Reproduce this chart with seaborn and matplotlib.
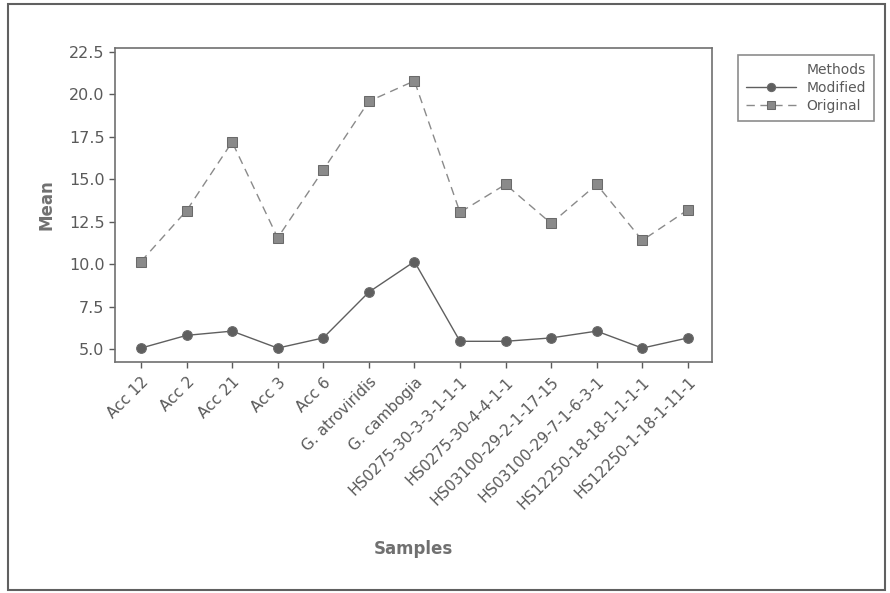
import pandas as pd
import seaborn as sns
import matplotlib.pyplot as plt
from matplotlib.patches import Rectangle

sns.set_style("white")
plt.rcParams["font.family"] = ["DejaVu Sans"]

samples = ["Acc 12", "Acc 2", "Acc 21", "Acc 3", "Acc 6", "G. atroviridis",
           "G. cambogia", "HS0275-30-3-3-1-1-1", "HS0275-30-4-4-1-1",
           "HS03100-29-2-1-17-15", "HS03100-29-7-1-6-3-1",
           "HS12250-18-18-1-1-1-1", "HS12250-1-18-1-11-1"]
modified = [5.05, 5.8, 6.05, 5.05, 5.65, 8.35, 10.15, 5.45, 5.45, 5.65, 6.05, 5.05, 5.65]
original = [10.15, 13.15, 17.2, 11.55, 15.55, 19.6, 20.8, 13.05, 14.7, 12.4, 14.7, 11.4, 13.2]
methods = ["Modified", "Original"]

df = pd.DataFrame({
    "Samples": samples * 2,
    "Mean": modified + original,
    "Methods": [methods[0]] * len(samples) + [methods[1]] * len(samples),
})

text_col = "#5a5a5a"
fig = plt.figure(figsize=(8.9, 5.93), dpi=100)
ax = fig.add_axes([115 / 890, 1 - 362 / 593, (712 - 115) / 890, (362 - 48) / 593])

sns.lineplot(data=df, x="Samples", y="Mean", hue="Methods", style="Methods",
             palette={"Modified": "#5f5f5f", "Original": "#8a8a8a"},
             markers={"Modified": "o", "Original": "s"},
             dashes={"Modified": "", "Original": (6, 4)},
             markersize=7, markeredgecolor="#6a6a6a", linewidth=1.0,
             sort=False, ax=ax)

ax.set_xlim(-0.57, len(samples) - 1 + 0.53)
ax.set_ylim(4.23, 22.74)
ax.set_yticks([5.0, 7.5, 10.0, 12.5, 15.0, 17.5, 20.0, 22.5])
ax.set_yticklabels(["5.0", "7.5", "10.0", "12.5", "15.0", "17.5", "20.0", "22.5"])
ax.set_xticks(range(len(samples)))
ax.set_xticklabels(samples, rotation=45, ha="right", rotation_mode="anchor")
ax.tick_params(axis="both", colors=text_col, length=4, width=1,
               direction="out", bottom=True, left=True)
ax.tick_params(axis="y", labelsize=11.5)
ax.tick_params(axis="x", labelsize=11, pad=5)
for s in ax.spines.values():
    s.set_color("#707070")
    s.set_linewidth(1.2)

ax.set_xlabel("Samples", fontsize=12, fontweight="bold", color="#707070", labelpad=20)
ax.set_ylabel("Mean", fontsize=12, fontweight="bold", color="#707070", labelpad=10)

leg = ax.legend(title="Methods", loc="upper left",
                bbox_to_anchor=(731 / 890, 1 - 48 / 593), bbox_transform=fig.transFigure,
                fontsize=10, title_fontsize=10, frameon=True, fancybox=False,
                handlelength=3.6, borderpad=0.55, labelspacing=0.3,
                markerscale=0.85)
leg._legend_box.align = "right"
leg.get_frame().set_edgecolor("#707070")
leg.get_frame().set_linewidth(1.2)
for t in leg.get_texts():
    t.set_color(text_col)
leg.get_title().set_color(text_col)

fig.patches.append(Rectangle((8 / 890, 3 / 593), 877 / 890, 586 / 593, transform=fig.transFigure,
                             fill=False, edgecolor="#606060", linewidth=1.5))

fig.savefig("out.png", dpi=100)
